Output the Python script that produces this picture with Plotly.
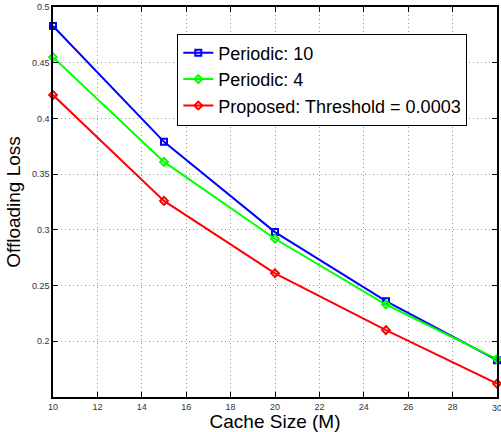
import plotly.graph_objects as go

cache_size = [10, 15, 20, 25, 30]
periodic_10 = [0.483, 0.379, 0.298, 0.236, 0.183]
periodic_4 = [0.455, 0.361, 0.292, 0.233, 0.184]
proposed = [0.421, 0.326, 0.261, 0.210, 0.162]

x_ticks = list(range(10, 31, 2))
y_ticks = [0.2, 0.25, 0.3, 0.35, 0.4, 0.45, 0.5]
y_labels = ["0.2", "0.25", "0.3", "0.35", "0.4", "0.45", "0.5"]

series = [
    ("Periodic: 10", periodic_10, "#0000ff", "square-open"),
    ("Periodic: 4", periodic_4, "#00ff00", "diamond-open"),
    ("Proposed: Threshold = 0.0003", proposed, "#ff0000", "diamond-open"),
]

fig = go.Figure()
for name, vals, color, sym in series:
    fig.add_trace(go.Scatter(
        x=cache_size, y=vals, name=name, mode="lines+markers",
        line=dict(color=color, width=2),
        marker=dict(symbol=sym, size=6, color=color, line=dict(width=2, color=color)),
        cliponaxis=False,
    ))

tick_font = dict(family="Liberation Sans, Arial", size=9, color="#333")
axis_common = dict(
    showline=True, linecolor="black", linewidth=1.5, mirror="ticks",
    ticks="inside", ticklen=5, tickcolor="black",
    showgrid=True, gridcolor="#999999", griddash="1px,3px", gridwidth=1,
    zeroline=False, tickfont=tick_font,
)

# last x tick label is cut at the page edge in the reference; Plotly hides it, so add it as text
fig.add_annotation(x=x_ticks[-1], y=0, xref="x", yref="paper", yshift=-4,
                   text=str(x_ticks[-1]), showarrow=False, yanchor="top",
                   font=tick_font)

fig.update_layout(
    width=501, height=432,
    margin=dict(l=53, r=2, t=6, b=35),
    paper_bgcolor="white", plot_bgcolor="white",
    font=dict(family="Liberation Sans, Arial", color="black"),
    xaxis=dict(range=[10, 30], tickvals=x_ticks,
               title=dict(text="Cache Size (M)", font=dict(size=19), standoff=0),
               **axis_common),
    yaxis=dict(range=[0.15, 0.5], tickvals=y_ticks, ticktext=y_labels,
               title=dict(text="Offloading Loss", font=dict(size=19), standoff=6),
               **axis_common),
    legend=dict(x=0.28, y=0.932, xanchor="left", yanchor="top",
                bgcolor="white", bordercolor="black", borderwidth=1,
                font=dict(size=18, family="Liberation Sans, Arial"),
                itemwidth=30, tracegroupgap=0),
)

fig.write_html("out.html", config={"displayModeBar": False},
               post_script="document.body.style.margin='0';document.body.style.overflow='hidden';")
